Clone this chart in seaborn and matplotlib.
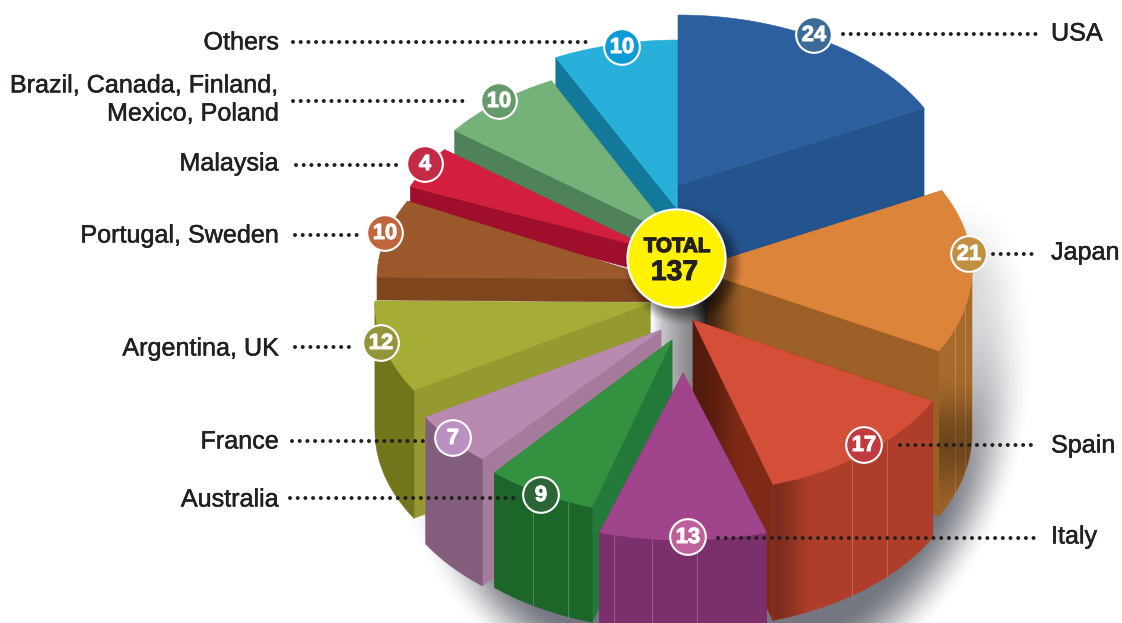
import numpy as np
import pandas as pd
import matplotlib
matplotlib.use("Agg")
import matplotlib.pyplot as plt
import matplotlib.patheffects as pe
from matplotlib.patches import Polygon
import seaborn as sns

# ---- data ----
countries = ["USA", "Japan", "Spain", "Italy", "Australia", "France", "Argentina, UK",
             "Portugal, Sweden", "Malaysia", "Brazil, Canada, Finland,\nMexico, Poland", "Others"]
values = [24, 21, 17, 13, 9, 7, 12, 10, 4, 10, 10]
total = 137

# ---- look of each slice (same order) ----
top_col = ["#2c5f9f", "#dc843a", "#d44f37", "#a0458c", "#33923f", "#b88aaf", "#a6ad36", "#9a582b", "#d21f3e", "#74b27a", "#27b0da"]
rad_col = ["#24548d", "#9c5f26", "#7f2a16", "#7b306c", "#23793a", "#a67a9b", "#959a30", "#7f451c", "#9f0e2b", "#50825a", "#12799b"]
out_col = ["#24548d", "#a86a2a", "#ae3e29", "#7b306c", "#1c662a", "#825e7c", "#71751c", "#7f451c", "#9f0e2b", "#50825a", "#12799b"]
badge_col = ["#3b6b98", "#c09040", "#c13a40", "#c0609a", "#2b6437", "#bb8fc0", "#94943a", "#c0663c", "#c32a45", "#66996b", "#0e9bd5"]
centre_x = [678, 694, 693, 683, 672, 661, 650, 658, 654, 673, 678]
centre_y = [185, 269, 320, 373, 340, 330, 303, 279, 250, 235, 210]
radius_x = [276, 278, 272, 284, 272, 274, 275, 281, 264, 275, 276]
radius_y = [170, 173, 172, 167, 175, 170, 170, 172, 165, 172, 170]
depth = [105, 165, 136, 92, 115, 127, 128, 23, 24, 24, 36]
start_adj = [0, 0, 0, 0, 0, 0, 0, 0, -4.3, 0, 0]
seams = [[], [955, 965], [852, 887], [614, 652, 697], [533, 568], [], [], [], [], [], []]
draw_order = [10, 9, 8, 7, 6, 0, 1, "column", 5, 4, 2, 3]

badge_x = [814, 969, 864, 688, 541, 453, 381, 385, 425, 499, 622]
badge_y = [35, 254, 445, 537, 495, 438, 343, 233, 164, 101, 47]
label_y = [33.5, 252.5, 445.5, 536.5, 499.5, 441.5, 348.5, 235.5, 163.5, 99.5, 42.5]
leader = [(843, 1040, 34), (993, 1035, 254), (900, 1035, 445), (718, 1040, 538), (290, 515, 498),
          (292, 428, 441), (295, 352, 347), (295, 360, 235), (296, 400, 165), (293, 465, 101), (293, 592, 42)]
right_side = [True, True, True, True, False, False, False, False, False, False, False]

sns.set_theme(style="white")
plt.rcParams["font.family"] = ["Liberation Sans", "DejaVu Sans"]

fig = plt.figure(figsize=(11.22, 6.23), dpi=100, facecolor="white")
ax = fig.add_axes([0, 0, 1, 1])
W, H = 1122, 623


def overlay(poly, extent, alpha_img, color=(0, 0, 0), z=2):
    """alpha_img: 2D array, painted over extent (x0,x1,y0,y1), clipped to poly if given."""
    rgba = np.zeros(alpha_img.shape + (4,))
    rgba[..., :3] = color
    rgba[..., 3] = alpha_img
    x0, x1, y0, y1 = extent
    im = ax.imshow(rgba, extent=(x0, x1, y1, y0), origin="upper", aspect="auto",
                   zorder=z, interpolation="bilinear")
    if poly is not None:
        patch = Polygon(poly, closed=True, transform=ax.transData, fc="none", ec="none")
        ax.add_patch(patch)
        im.set_clip_path(patch)


def smooth(a, b, v):
    t = np.clip((v - a) / (b - a), 0, 1)
    return t * t * (3 - 2 * t)


# ground shadow
yy, xx = np.mgrid[0:H, 0:W]
d = np.sqrt(((xx - 700) / 320.0) ** 2 + ((yy - 350) / 360.0) ** 2)
shadow = (0.18 + 0.46 * smooth(300, 530, yy)) * (1 - smooth(0.86, 1.05, d)) * smooth(190, 290, yy) \
    * smooth(380, 580, xx + 0.35 * (yy - 400))
overlay(None, (0, W, 0, H), shadow, color=(0.15, 0.17, 0.22), z=0)

# slices
fractions = np.cumsum([0] + values) / total * 360.0
z = 1.0


def ell(i, th):
    r = np.radians(th)
    return centre_x[i] + radius_x[i] * np.sin(r), centre_y[i] - radius_y[i] * np.cos(r)


def add_poly(pts, color, zorder):
    ax.add_patch(Polygon(pts, closed=True, fc=color, ec=color, lw=0.4, zorder=zorder, joinstyle="round"))


def draw_slice(i, z):
    a0 = fractions[i] + start_adj[i]
    a1 = fractions[i + 1]
    h = depth[i]
    c = np.array([centre_x[i], centre_y[i]], float)
    # radial side faces
    for th in (a0, a1):
        px, py = ell(i, th)
        add_poly([c, (px, py), (px, py + h), (c[0], c[1] + h)], rad_col[i], z)
    # outer wall (only the front half of the rim faces the viewer)
    lo, hi = max(a0, 90), min(a1, 270)
    if hi > lo:
        th = np.linspace(lo, hi, 60)
        ox, oy = ell(i, th)
        pts = np.r_[np.c_[ox, oy], np.c_[ox, oy + h][::-1]]
        add_poly(pts, out_col[i], z + 0.01)
        for sx in seams[i]:
            s = (sx - centre_x[i]) / radius_x[i]
            sy = centre_y[i] + radius_y[i] * np.sqrt(1 - s * s)
            ax.plot([sx, sx], [sy, sy + h], color="white", alpha=0.22, lw=0.7, zorder=z + 0.02)
    # shading of the sides
    if i == 1:  # Japan
        px, py = ell(i, a1)
        poly = [c, (px, py), (px, py + h), (c[0], c[1] + h)]
        ramp = 0.62 * (1 - smooth(705, 745, np.linspace(690, 760, 80)))
        overlay(poly, (690, 760, 250, 450), np.tile(ramp, (4, 1)), z=z + 0.03)
        ys = np.linspace(360, 520, 80)
        band = 0.34 * smooth(370, 445, ys) * (1 - 0.75 * smooth(445, 510, ys))
        th = np.linspace(lo, hi, 60)
        ox, oy = ell(i, th)
        pts = np.r_[np.c_[ox, oy], np.c_[ox, oy + h][::-1]]
        overlay(pts, (900, 980, 360, 520), np.tile(band[:, None], (1, 4)), z=z + 0.03)
    if i == 2:  # Spain
        px, py = ell(i, a1)
        poly = [c, (px, py), (px, py + h), (c[0], c[1] + h)]
        ramp = 0.35 * (1 - smooth(700, 745, np.linspace(685, 780, 90)))
        overlay(poly, (685, 780, 320, 625), np.tile(ramp, (4, 1)), z=z + 0.03)
        th = np.linspace(lo, hi, 60)
        ox, oy = ell(i, th)
        pts = np.r_[np.c_[ox, oy], np.c_[ox, oy + h][::-1]]
        ramp = 0.28 * (1 - smooth(775, 815, np.linspace(770, 830, 60)))
        overlay(pts, (770, 830, 480, 625), np.tile(ramp, (4, 1)), z=z + 0.03)
    # top face
    th = np.linspace(a0, a1, 80)
    tx, ty = ell(i, th)
    add_poly(np.r_[[c], np.c_[tx, ty]], top_col[i], z + 0.05)


for item in draw_order:
    if item == "column":
        xs = np.array([651, 662, 675, 692, 700, 707], float)
        gs = np.array([1.0, 0.78, 0.66, 0.52, 0.30, 0.12])
        grid = np.linspace(651, 707, 120)
        g = np.interp(grid, xs, gs)
        rgba = np.ones((4, 120, 4))
        rgba[..., 0] = g
        rgba[..., 1] = g
        rgba[..., 2] = g + 0.015
        rgba = np.clip(rgba, 0, 1)
        ax.imshow(rgba, extent=(651, 707, 395, 290), origin="upper", aspect="auto", zorder=z)
    else:
        draw_slice(item, z)
    z += 1

# hub with its soft shadow
hub_x, hub_y, hub_r = 676, 258, 49
yy2, xx2 = np.mgrid[190:340, 610:760]
rr = np.hypot(xx2 - (hub_x + 7), yy2 - (hub_y + 7))
overlay(None, (610, 760, 190, 340), 0.45 * (1 - smooth(44, 62, rr)), z=z)
z += 1
hub_df = pd.DataFrame({"x": [hub_x], "y": [hub_y]})
sns.scatterplot(data=hub_df, x="x", y="y", s=(2 * hub_r * 0.72) ** 2, color="#fff200",
                edgecolor="white", linewidth=1.6, legend=False, ax=ax, zorder=z)
dark = "#231f20"
ax.text(hub_x + 1, 246.5, "TOTAL", ha="center", va="center", fontsize=14.8, fontweight="bold", color=dark,
        zorder=z + 1, path_effects=[pe.withStroke(linewidth=1.0, foreground=dark)])
ax.text(hub_x - 1.5, 273, str(total), ha="center", va="center", fontsize=20.4, fontweight="bold", color=dark,
        zorder=z + 1, path_effects=[pe.withStroke(linewidth=0.7, foreground=dark)])
z += 2

# leader lines
for (x0, x1, y) in leader:
    ax.plot([x0, x1], [y, y], color=dark, lw=2.9, linestyle=(0, (0.001, 1.91)),
            dash_capstyle="round", zorder=z)
z += 1

# numbered badges
badges = pd.DataFrame({"x": badge_x, "y": badge_y, "name": countries})
sns.scatterplot(data=badges, x="x", y="y", hue="name", palette=dict(zip(countries, badge_col)),
                s=660, edgecolor="white", linewidth=1.5, legend=False, ax=ax, zorder=z)
for x, y, v in zip(badge_x, badge_y, values):
    ax.text(x, y + 0.5, str(v), ha="center", va="center", color="white", fontsize=15.8, fontweight="bold",
            zorder=z + 1, path_effects=[pe.withStroke(linewidth=0.7, foreground="white")])
z += 2

# country labels
for name, y, right in zip(countries, label_y, right_side):
    ax.text(1051 if right else 279, y, name, ha="left" if right else "right", va="center",
            fontsize=18.1, color=dark, linespacing=1.22, zorder=z,
            path_effects=[pe.withStroke(linewidth=0.35, foreground=dark)])

ax.set_xlim(0, W)
ax.set_ylim(H, 0)
ax.set_axis_off()
fig.savefig("out.png", dpi=100, facecolor="white")
